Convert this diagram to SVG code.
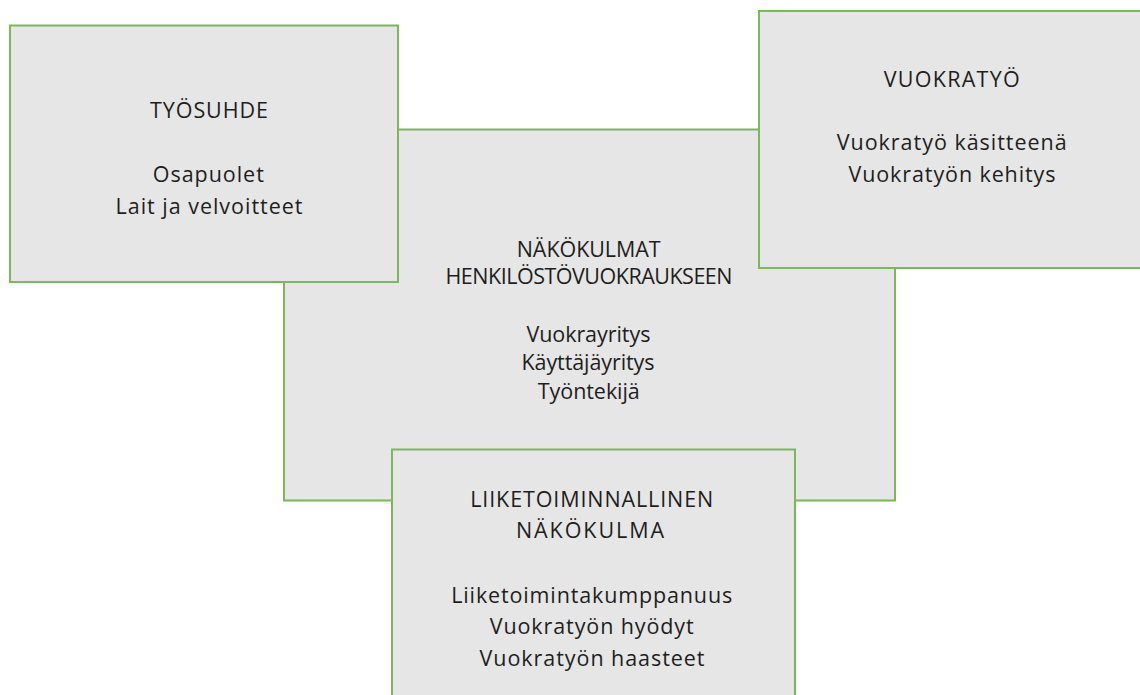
<svg xmlns="http://www.w3.org/2000/svg" width="1140" height="695" viewBox="0 0 1140 695">
<style>
.box{fill:#e6e6e6;stroke:#7ab85a;stroke-width:2}
text{font-family:"Open Sans","Liberation Sans",sans-serif;font-size:21.5px;fill:#1e1e1e;text-anchor:middle}
</style>
<rect width="1140" height="695" fill="#ffffff"/>
<g id="node-center">
<rect class="box" x="284" y="129.5" width="611" height="371"/>
<text x="588.7" y="256.5" textLength="144">NÄKÖKULMAT</text>
<text x="589" y="283.5" textLength="287">HENKILÖSTÖVUOKRAUKSEEN</text>
<text x="588.4" y="341.5" textLength="124">Vuokrayritys</text>
<text x="588" y="370" textLength="133">Käyttäjäyritys</text>
<text x="588.8" y="398.5" textLength="102">Työntekijä</text>
</g>
<g id="node-tyosuhde">
<rect class="box" x="10" y="25.5" width="388" height="256.5"/>
<text x="209" y="118" textLength="118">TYÖSUHDE</text>
<text x="208.3" y="182.3" textLength="111">Osapuolet</text>
<text x="209" y="214" textLength="187">Lait ja velvoitteet</text>
</g>
<g id="node-vuokratyo">
<rect class="box" x="759" y="11" width="400" height="257"/>
<text x="951.7" y="86.5" textLength="136">VUOKRATYÖ</text>
<text x="951.7" y="150" textLength="230">Vuokratyö käsitteenä</text>
<text x="952" y="182" textLength="207">Vuokratyön kehitys</text>
</g>
<g id="node-liiketoiminnallinen">
<rect class="box" x="392" y="449.5" width="403" height="280"/>
<text x="591.7" y="507" textLength="243">LIIKETOIMINNALLINEN</text>
<text x="590" y="538" textLength="148">NÄKÖKULMA</text>
<text x="591.7" y="602.7" textLength="281">Liiketoimintakumppanuus</text>
<text x="591.7" y="634" textLength="204">Vuokratyön hyödyt</text>
<text x="592" y="666" textLength="225">Vuokratyön haasteet</text>
</g>
<g id="connectors"></g>
</svg>
